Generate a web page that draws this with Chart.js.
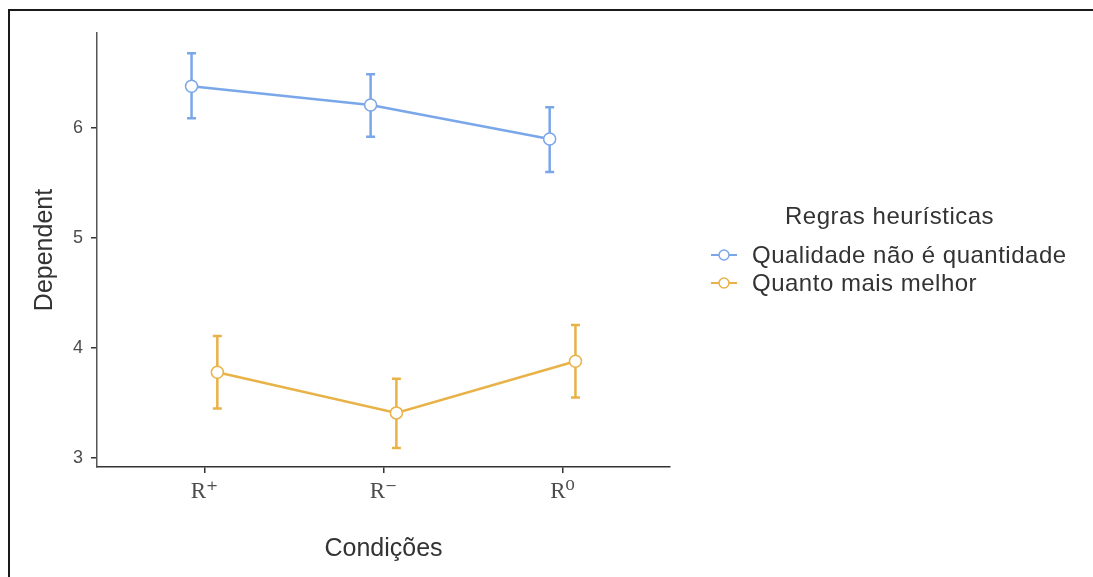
<!DOCTYPE html>
<html>
<head>
<meta charset="utf-8">
<script src="https://cdn.jsdelivr.net/npm/chart.js@4"></script>
<style>
  body { margin: 0; background: #fff; }
  #wrap { position: absolute; left: 0; top: 0; width: 1093px; height: 577px; overflow: hidden; }
  #frame { position: absolute; left: 8px; top: 9px; width: 1200px; height: 700px; border: 2px solid #1a1a1a; pointer-events: none; }
  .leg { position: absolute; font-family: "Liberation Sans", Arial, sans-serif; font-size: 24px; color: #333; line-height: 28px; white-space: nowrap; letter-spacing: 0.5px; }
  .sym { position: absolute; left: 711px; }
</style>
</head>
<body>
<div id="wrap">
  <canvas id="chart-series" width="1093" height="577"></canvas>
  <div id="frame"></div>
  <div class="leg" style="left:785px; top:202px;">Regras heurísticas</div>
  <svg class="sym" style="top:246px" width="26" height="18"><line x1="0" y1="9" x2="26" y2="9" stroke="#7aa6ea" stroke-width="2"/><circle cx="13" cy="9" r="5" fill="#fff" stroke="#7aa6ea" stroke-width="1.5"/></svg>
  <div class="leg" style="left:752px; top:241px;">Qualidade não é quantidade</div>
  <svg class="sym" style="top:274px" width="26" height="18"><line x1="0" y1="9" x2="26" y2="9" stroke="#e9b247" stroke-width="2"/><circle cx="13" cy="9" r="5" fill="#fff" stroke="#e9b247" stroke-width="1.5"/></svg>
  <div class="leg" style="left:752px; top:269px;">Quanto mais melhor</div>
</div>
<script>
const categories = ['R\u207A', 'R\u207B', 'R\u2070'];
const yTicks = [3, 4, 5, 6];

const qualidade = [6.38, 6.21, 5.90];
const qualidadeLow = [6.09, 5.92, 5.60];
const qualidadeHigh = [6.68, 6.49, 6.19];

const quanto = [3.78, 3.41, 3.88];
const quantoLow = [3.45, 3.09, 3.55];
const quantoHigh = [4.11, 3.72, 4.21];

const dodge = 0.072;
const azul = '#7aa6ea';
const laranja = '#e9b247';

const chartSeries = document.getElementById('chart-series');

const montarPontos = (vals, lows, highs, shift) =>
    vals.map((v, i) => ({ x: i + shift, y: v, lo: lows[i], hi: highs[i] }));

// barras de erro desenhadas por baixo das linhas
const errorBars = {
    id: 'errorBars',
    beforeDatasetsDraw(chart) {
        const ctx = chart.ctx;
        const yScale = chart.scales.y;
        chart.data.datasets.forEach((ds, di) => {
            const meta = chart.getDatasetMeta(di);
            ctx.save();
            ctx.strokeStyle = ds.borderColor;
            ctx.lineWidth = 2.5;
            meta.data.forEach((pt, i) => {
                const raw = ds.data[i];
                const yl = yScale.getPixelForValue(raw.lo);
                const yh = yScale.getPixelForValue(raw.hi);
                ctx.beginPath();
                ctx.moveTo(pt.x, yl); ctx.lineTo(pt.x, yh);
                ctx.moveTo(pt.x - 4.5, yl); ctx.lineTo(pt.x + 4.5, yl);
                ctx.moveTo(pt.x - 4.5, yh); ctx.lineTo(pt.x + 4.5, yh);
                ctx.stroke();
            });
            ctx.restore();
        });
    }
};

const config = {
    type: 'line',
    data: {
        datasets: [{
            label: 'Qualidade não é quantidade',
            data: montarPontos(qualidade, qualidadeLow, qualidadeHigh, -dodge),
            borderColor: azul,
            backgroundColor: '#fff',
            borderWidth: 2.5,
            pointRadius: 6,
            pointBorderWidth: 1.5,
            tension: 0
        }, {
            label: 'Quanto mais melhor',
            data: montarPontos(quanto, quantoLow, quantoHigh, dodge),
            borderColor: laranja,
            backgroundColor: '#fff',
            borderWidth: 2.5,
            pointRadius: 6,
            pointBorderWidth: 1.5,
            tension: 0
        }]
    },
    options: {
        responsive: false,
        animation: false,
        events: [],
        layout: { padding: { left: 0, top: 33, right: 423, bottom: 0 } },
        plugins: { legend: { display: false }, tooltip: { enabled: false } },
        scales: {
            x: {
                type: 'linear',
                min: -0.6,
                max: 2.6,
                afterBuildTicks: (s) => { s.ticks = categories.map((c, i) => ({ value: i })); },
                afterFit: (s) => { s.height = 110; },
                ticks: {
                    callback: (v) => categories[v],
                    font: { family: '"Liberation Serif", "DejaVu Serif", serif', size: 23 },
                    color: '#4d4d4d',
                    padding: 5,
                    maxRotation: 0
                },
                grid: { drawOnChartArea: false, drawTicks: true, tickLength: 6, color: '#333', lineWidth: 1.5 },
                border: { display: true, color: '#333', width: 1.5 },
                title: {
                    display: true,
                    text: 'Condições',
                    font: { family: '"Liberation Sans", Arial, sans-serif', size: 25 },
                    color: '#333',
                    padding: { top: 0, bottom: 13 }
                }
            },
            y: {
                min: 2.918,
                max: 6.864,
                afterBuildTicks: (s) => { s.ticks = yTicks.map(v => ({ value: v })); },
                afterFit: (s) => { s.width = 97; },
                ticks: {
                    font: { family: '"Liberation Sans", Arial, sans-serif', size: 18 },
                    color: '#4d4d4d',
                    padding: 8
                },
                grid: { drawOnChartArea: false, drawTicks: true, tickLength: 6, color: '#333', lineWidth: 1.5 },
                border: { display: true, color: '#555', width: 1.5 },
                title: {
                    display: true,
                    text: 'Dependent',
                    font: { family: '"Liberation Sans", Arial, sans-serif', size: 25 },
                    color: '#333',
                    padding: { top: 30, bottom: 0 }
                }
            }
        }
    },
    plugins: [errorBars]
};

new Chart(chartSeries, config);
</script>
</body>
</html>
